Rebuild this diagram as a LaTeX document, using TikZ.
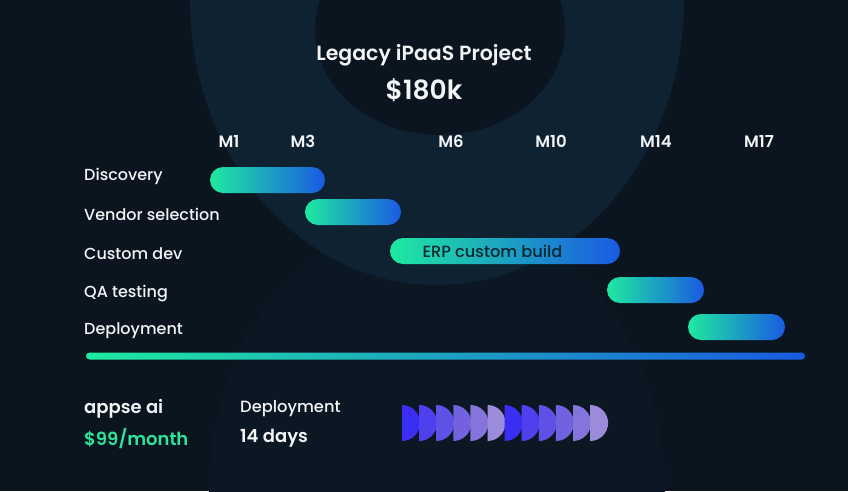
\documentclass[tikz,border=0pt]{standalone}
\usepackage{fontspec}
\setmainfont{Poppins}
\newfontfamily\mediumfont{Poppins Medium}
\newfontfamily\semifont{Poppins SemiBold}
\usetikzlibrary{positioning}
\definecolor{bgnavy}{HTML}{0A1520}
\definecolor{ringblue}{HTML}{0E2232}
\definecolor{lowblue}{HTML}{0B1823}
\definecolor{mint}{HTML}{1FE9A0}
\definecolor{barblue}{HTML}{1A5AE2}
\definecolor{pricegreen}{HTML}{2EE39A}
\definecolor{erptext}{HTML}{0A2630}
\definecolor{txtwhite}{HTML}{F2F4F6}
\definecolor{dA}{HTML}{3A2EF2}
\definecolor{dB}{HTML}{4E40EC}
\definecolor{dC}{HTML}{5F51E6}
\definecolor{dD}{HTML}{7262DF}
\definecolor{dE}{HTML}{8574DB}
\definecolor{dF}{HTML}{9C8BDB}

\begin{document}
\begin{tikzpicture}[x=1pt, y=-1pt,
  month/.style={text=txtwhite, inner sep=0pt, font=\semifont\fontsize{16.5}{19}\selectfont},
  task/.style={text=txtwhite, anchor=west, inner sep=0pt, font=\mediumfont\fontsize{16}{19}\selectfont},
  gantt/.style={rounded corners=13pt, minimum height=26pt, inner sep=0pt, left color=mint, right color=barblue},
  info/.style={text=txtwhite, anchor=west, inner sep=0pt, font=\mediumfont\fontsize{16.3}{19}\selectfont},
  infobold/.style={text=txtwhite, anchor=west, inner sep=0pt, font=\semifont\fontsize{18}{21}\selectfont}]
\useasboundingbox (0,0) rectangle (848,491);
\clip (0,0) rectangle (848,491);
\fill[bgnavy] (0,0) rectangle (848,491);
\fill[lowblue] (437,491) ellipse [x radius=228, y radius=279];
\fill[ringblue] (437,0) ellipse [x radius=247, y radius=285];
\fill[bgnavy] (440,30) ellipse [x radius=125, y radius=105];

\node[text=txtwhite, font=\semifont\fontsize{20.5}{24}\selectfont] (title) at (424,55.5) {Legacy iPaaS Project};
\node[text=txtwhite, font=\semifont\fontsize{26.5}{30}\selectfont] (cost) at (424,90) {\$180k};

\node[month] (m1) at (229,141) {M1};
\node[month] (m3) at (303,141) {M3};
\node[month] (m6) at (451,141) {M6};
\node[month] (m10) at (551,141) {M10};
\node[month] (m14) at (656,141) {M14};
\node[month] (m17) at (759,141) {M17};

\node[task] (discovery) at (84,176.5) {Discovery};
\node[task] (vendor) at (84,214.5) {Vendor selection};
\node[task] (custom) at (84,253.5) {Custom dev};
\node[task] (qa) at (84,294) {QA testing};
\node[task] (deploy) at (84,330.5) {Deployment};

\node[gantt, minimum width=115pt] (discoverybar) at (267.5,180) {};
\node[gantt, minimum width=96pt] (vendorbar) at (353,212) {};
\node[gantt, minimum width=230pt] (custombar) at (505,251) {};
\node[text=erptext, inner sep=0pt, font=\mediumfont\fontsize{16.2}{19}\selectfont] (erp) at (492.5,251.5) {ERP custom build};
\node[gantt, minimum width=97pt] (qabar) at (655.5,290) {};
\node[gantt, minimum width=97pt] (deploybar) at (736.5,327) {};

\node[rounded corners=3.5pt, minimum width=719pt, minimum height=7pt, inner sep=0pt, left color=mint, right color=barblue] (timeline) at (445.5,356) {};

\node[infobold] (appse) at (84,408.5) {appse ai};
\node[infobold, text=pricegreen] (price) at (84,438.5) {\$99/month};
\node[info] (deploylabel) at (240,408.5) {Deployment};
\node[infobold] (days) at (240,438.5) {14 days};

\foreach \i/\c in {0/dA,1/dB,2/dC,3/dD,4/dE,5/dF,6/dA,7/dB,8/dC,9/dD,10/dE,11/dF}
  \fill[\c] (402+17.1*\i,405) arc[start angle=90, end angle=-90, radius=18pt] -- cycle;
\end{tikzpicture}
\end{document}
